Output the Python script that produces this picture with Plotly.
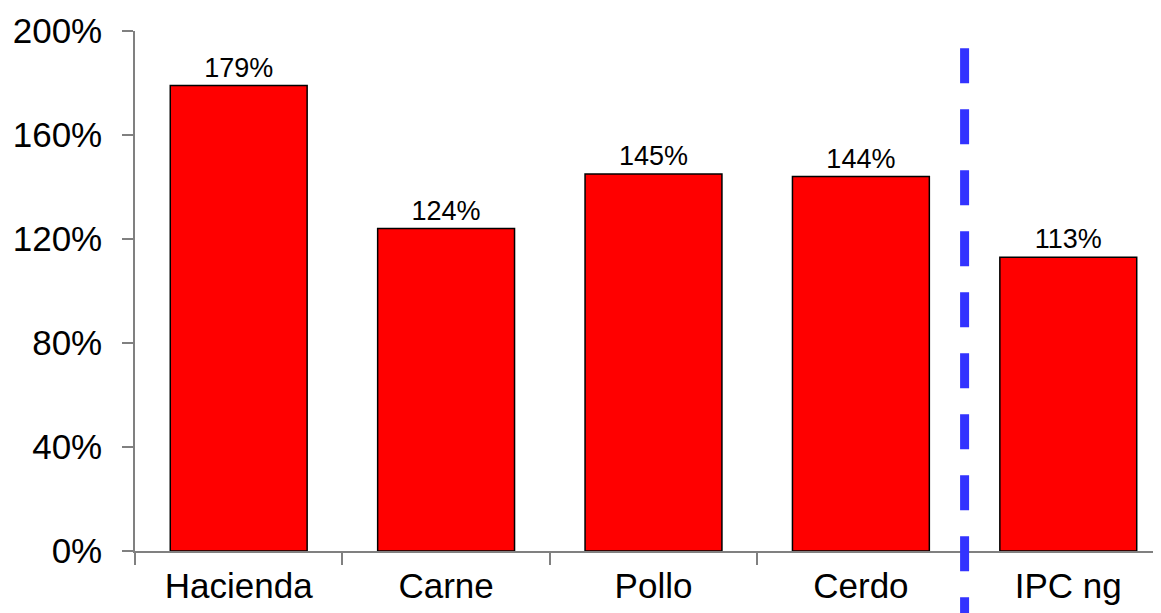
import plotly.graph_objects as go

categories = ["Hacienda", "Carne", "Pollo", "Cerdo", "IPC ng"]
values = [179, 124, 145, 144, 113]
y_ticks = [0, 40, 80, 120, 160, 200]
separator_x = 3.5

FONT = "Liberation Sans, Arial, sans-serif"

fig = go.Figure()
fig.add_trace(go.Bar(
    x=categories,
    y=values,
    width=0.66,
    marker=dict(color="#FF0000", line=dict(color="#000000", width=1.5)),
    text=[f"{v}%" for v in values],
    textposition="outside",
    textfont=dict(family=FONT, size=27, color="#000000"),
    cliponaxis=False,
))

# drawn top-down so the dash pattern starts at the top like the reference
fig.add_shape(
    type="line", xref="x", yref="paper",
    x0=separator_x, x1=separator_x, y0=0.967, y1=-0.13,
    line=dict(color="#3333FF", width=9, dash="35px,26px"),
)

# page body has an 8px default margin; size the figure so the plot area lands where the reference has it
fig.update_layout(
    width=1153, height=605,
    margin=dict(l=127, r=0, t=23, b=62),
    plot_bgcolor="#FFFFFF", paper_bgcolor="#FFFFFF",
    showlegend=False,
    font=dict(family=FONT, color="#000000"),
    xaxis=dict(
        type="category",
        range=[-0.5, 4.447],
        tickson="boundaries",
        ticks="outside", ticklen=12, tickcolor="#808080", tickwidth=1.5,
        showline=True, linecolor="#808080", linewidth=1.5,
        showgrid=False, zeroline=False,
        automargin=False,
        ticklabelstandoff=3,
        tickfont=dict(family=FONT, size=35, color="#000000"),
    ),
    yaxis=dict(
        range=[0, 200],
        tickmode="array",
        tickvals=y_ticks,
        ticktext=[f"{t}%" for t in y_ticks],
        ticks="outside", ticklen=11, tickcolor="#808080", tickwidth=1.5,
        showline=True, linecolor="#808080", linewidth=1.5,
        showgrid=False, zeroline=False,
        automargin=False,
        ticklabelstandoff=13,
        tickfont=dict(family=FONT, size=35, color="#000000"),
    ),
)

fig.write_html("out.html")
